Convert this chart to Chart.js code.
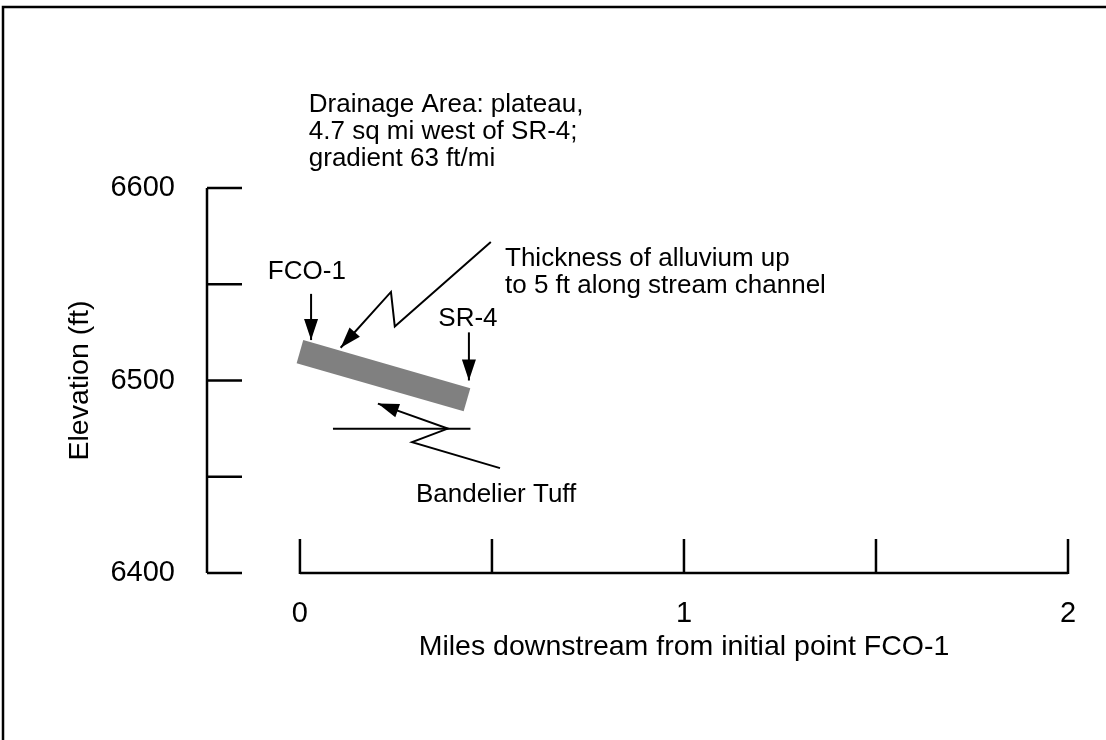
<!DOCTYPE html>
<html>
<head>
<meta charset="utf-8">
<script src="https://cdn.jsdelivr.net/npm/chart.js@4"></script>
<style>
  html, body { margin: 0; padding: 0; background: #fff; }
  #wrap { width: 1106px; height: 740px; }
</style>
</head>
<body>
<div id="wrap"><canvas id="profile" width="1106" height="740"></canvas></div>
<script>
// stream profile: miles downstream vs elevation (ft)
const bandMiles = [0, 0.435];
const bandElev = [6515, 6490];

// axis ticks
const xTickValues = [0, 1, 2];
const xTickLabels = ["0", "1", "2"];
const xTickMarks = [0, 0.5, 1, 1.5, 2];
const yTickValues = [6400, 6500, 6600];
const yTickLabels = ["6400", "6500", "6600"];
const yTickMarks = [6400, 6450, 6500, 6550, 6600];

// leader lines [miles, ft], arrow head at the last point
const fcoArrow = [[0.029, 6545], [0.029, 6521]];
const srArrow = [[0.440, 6525], [0.440, 6500]];
const alluviumLeader = [[0.497, 6572], [0.247, 6528], [0.237, 6546], [0.106, 6517]];
const tuffContact = [[0.086, 6475], [0.444, 6475]];
const tuffLeader = [[0.521, 6454.5], [0.292, 6468], [0.385, 6475], [0.203, 6488]];

// notes [text, miles, ft, align]
const notes = [
  ["Drainage Area: plateau,", 0.023, 6643, "left"],
  ["4.7 sq mi west of SR-4;", 0.023, 6629, "left"],
  ["gradient 63 ft/mi", 0.023, 6615, "left"],
  ["Thickness of alluvium up", 0.534, 6563, "left"],
  ["to 5 ft along stream channel", 0.534, 6549, "left"],
  ["FCO-1", 0.018, 6556.5, "center"],
  ["SR-4", 0.4375, 6532, "center"],
  ["Bandelier Tuff", 0.302, 6440.5, "left"]
];

const xTitle = "Miles downstream from initial point FCO-1";
const yTitle = "Elevation (ft)";

const FONT = "'Liberation Sans', Arial, sans-serif";
Chart.defaults.font.family = FONT;
Chart.defaults.font.size = 29;
Chart.defaults.color = "#000";

function toPx(chart, p) {
  return [chart.scales.x.getPixelForValue(p[0]), chart.scales.y.getPixelForValue(p[1])];
}

function polyline(ctx, chart, pts, arrow) {
  const p = pts.map(q => toPx(chart, q));
  ctx.beginPath();
  ctx.moveTo(p[0][0], p[0][1]);
  for (let i = 1; i < p.length; i++) ctx.lineTo(p[i][0], p[i][1]);
  ctx.stroke();
  if (!arrow) return;
  const tip = p[p.length - 1], prev = p[p.length - 2];
  const a = Math.atan2(tip[1] - prev[1], tip[0] - prev[0]);
  const len = 21, half = 7;
  ctx.beginPath();
  ctx.moveTo(tip[0], tip[1]);
  ctx.lineTo(tip[0] - len * Math.cos(a) - half * Math.sin(a), tip[1] - len * Math.sin(a) + half * Math.cos(a));
  ctx.lineTo(tip[0] - len * Math.cos(a) + half * Math.sin(a), tip[1] - len * Math.sin(a) - half * Math.cos(a));
  ctx.closePath();
  ctx.fill();
}

const profilePlugin = {
  id: "profile",
  beforeDraw(chart) {
    const ctx = chart.ctx;
    ctx.save();
    ctx.fillStyle = "#fff";
    ctx.fillRect(0, 0, chart.width, chart.height);
    // frame
    ctx.strokeStyle = "#000";
    ctx.lineWidth = 2.5;
    ctx.beginPath();
    ctx.moveTo(3, chart.height);
    ctx.lineTo(3, 7);
    ctx.lineTo(chart.width, 7);
    ctx.stroke();
    ctx.restore();
  },
  afterDraw(chart) {
    const ctx = chart.ctx;
    const xs = chart.scales.x, ys = chart.scales.y;
    const left = chart.chartArea.left;
    ctx.save();
    ctx.strokeStyle = "#000";
    ctx.fillStyle = "#000";
    ctx.lineCap = "butt";

    // y axis with ticks pointing inward
    ctx.lineWidth = 2.5;
    ctx.beginPath();
    ctx.moveTo(left, ys.getPixelForValue(6600));
    ctx.lineTo(left, ys.getPixelForValue(6400));
    yTickMarks.forEach(v => {
      const y = ys.getPixelForValue(v);
      ctx.moveTo(left, y);
      ctx.lineTo(left + 35, y);
    });
    ctx.stroke();

    // x axis with ticks pointing up
    const y0 = ys.getPixelForValue(6400);
    ctx.beginPath();
    ctx.moveTo(xs.getPixelForValue(0), y0);
    ctx.lineTo(xs.getPixelForValue(2), y0);
    xTickMarks.forEach(v => {
      const x = xs.getPixelForValue(v);
      ctx.moveTo(x, y0 + 1);
      ctx.lineTo(x, y0 - 34);
    });
    ctx.stroke();

    // leaders
    ctx.lineWidth = 2;
    polyline(ctx, chart, fcoArrow, true);
    polyline(ctx, chart, srArrow, true);
    polyline(ctx, chart, alluviumLeader, true);
    polyline(ctx, chart, tuffContact, false);
    polyline(ctx, chart, tuffLeader, true);

    // notes
    ctx.font = "26px " + FONT;
    ctx.textBaseline = "middle";
    notes.forEach(n => {
      const p = toPx(chart, [n[1], n[2]]);
      ctx.textAlign = n[3];
      ctx.fillText(n[0], p[0], p[1]);
    });

    // axis titles
    ctx.font = "28.5px " + FONT;
    ctx.textAlign = "center";
    ctx.fillText(xTitle, xs.getPixelForValue(1), y0 + 74);
    ctx.translate(80, ys.getPixelForValue(6500));
    ctx.rotate(-Math.PI / 2);
    ctx.fillText(yTitle, 0, 0);
    ctx.restore();
  }
};

new Chart(document.getElementById("profile"), {
  type: "line",
  data: {
    datasets: [{
      label: "Alluvium",
      data: bandMiles.map((m, i) => ({ x: m, y: bandElev[i] })),
      borderColor: "#808080",
      borderWidth: 24,
      borderCapStyle: "butt",
      pointRadius: 0,
      fill: false
    }]
  },
  options: {
    responsive: false,
    animation: false,
    devicePixelRatio: 1,
    layout: { padding: { top: 188, right: 38, bottom: 107, left: 0 } },
    plugins: { legend: { display: false }, tooltip: { enabled: false } },
    scales: {
      x: {
        type: "linear",
        min: -0.242,
        max: 2,
        grid: { display: false, drawTicks: false },
        border: { display: false },
        ticks: {
          padding: 24,
          callback: (v) => xTickLabels[xTickValues.indexOf(v)]
        },
        afterBuildTicks: (s) => { s.ticks = xTickValues.map(v => ({ value: v })); },
        afterFit: (s) => { s.height = 60; }
      },
      y: {
        type: "linear",
        min: 6400,
        max: 6600,
        grid: { display: false, drawTicks: false },
        border: { display: false },
        ticks: {
          padding: 32,
          callback: (v) => yTickLabels[yTickValues.indexOf(v)]
        },
        afterBuildTicks: (s) => { s.ticks = yTickValues.map(v => ({ value: v })); },
        afterFit: (s) => { s.width = 207; }
      }
    }
  },
  plugins: [profilePlugin]
});
</script>
</body>
</html>
